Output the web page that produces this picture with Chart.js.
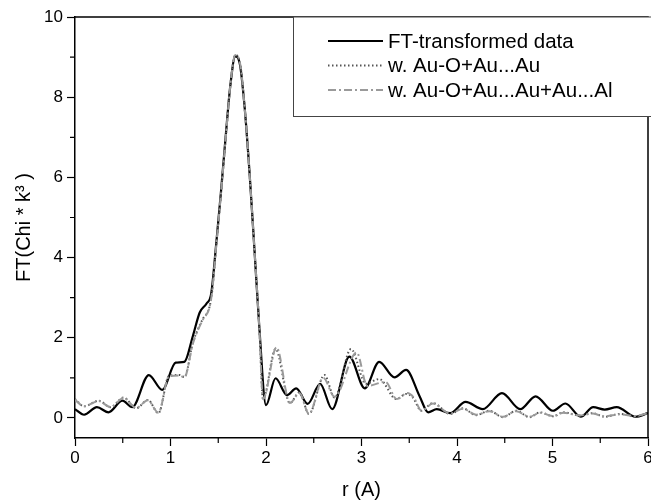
<!DOCTYPE html>
<html>
<head>
<meta charset="utf-8">
<script src="https://cdn.jsdelivr.net/npm/chart.js@4/dist/chart.umd.min.js"></script>
<style>
  body { margin: 0; background: #fff; }
  #wrap { width: 651px; height: 500px; }
</style>
</head>
<body>
<div id="wrap"><canvas id="ftChart" width="651" height="500"></canvas></div>
<script>
// Series labels
const seriesLabels = ['FT-transformed data', 'w. Au-O+Au...Au', 'w. Au-O+Au...Au+Au...Al'];

// FT-transformed data (r, FT)
const ftR = [0.00, 0.095, 0.23, 0.35, 0.497, 0.60, 0.773, 0.914, 1.054, 1.145, 1.235, 1.306, 1.376, 1.426,
  1.477, 1.527, 1.577, 1.627, 1.678, 1.728, 1.778, 1.828, 1.879, 1.929, 2.00, 2.10, 2.22, 2.316, 2.436,
  2.567, 2.693, 2.873, 3.034, 3.185, 3.346, 3.467, 3.607, 3.698, 3.788, 3.929, 4.09, 4.27, 4.471, 4.662,
  4.823, 5.004, 5.135, 5.296, 5.426, 5.547, 5.673, 5.868, 6.00];
const ftY = [0.22, 0.08, 0.27, 0.14, 0.43, 0.27, 1.07, 0.70, 1.38, 1.40, 2.05, 2.63, 2.85, 3.10,
  4.3, 5.6, 7.0, 8.3, 9.02, 8.8, 7.7, 6.1, 4.2, 2.3, 0.32, 0.99, 0.57, 0.74, 0.35,
  0.85, 0.22, 1.53, 0.74, 1.40, 1.01, 1.20, 0.55, 0.14, 0.22, 0.12, 0.40, 0.22, 0.62, 0.22,
  0.54, 0.18, 0.36, 0.03, 0.27, 0.21, 0.27, 0.03, 0.12];

// Fit w. Au-O + Au...Au
const auR = [0.00, 0.095, 0.25, 0.37, 0.51, 0.64, 0.763, 0.874, 0.984, 1.095, 1.145, 1.235, 1.336, 1.406,
  1.436, 1.477, 1.527, 1.577, 1.627, 1.678, 1.728, 1.778, 1.828, 1.879, 1.929, 1.969, 2.10, 2.25, 2.35,
  2.45, 2.612, 2.718, 2.89, 3.045, 3.185, 3.366, 3.467, 3.537, 3.627, 3.748, 3.929, 4.06, 4.20, 4.34,
  4.48, 4.62, 4.76, 4.87, 5.004, 5.115, 5.286, 5.416, 5.547, 5.708, 5.868, 6.00];
const auY = [0.47, 0.29, 0.43, 0.27, 0.51, 0.24, 0.45, 0.12, 1.05, 1.07, 1.02, 1.88, 2.46, 2.75,
  3.15, 4.25, 5.55, 6.95, 8.3, 9.05, 8.85, 7.7, 6.1, 4.2, 2.3, 0.47, 1.72, 0.37, 0.64,
  0.10, 1.07, 0.51, 1.72, 0.85, 0.97, 0.47, 0.60, 0.51, 0.18, 0.37, 0.10, 0.24, 0.07, 0.18,
  0.02, 0.18, 0.02, 0.14, 0.04, 0.14, 0.06, 0.12, 0.03, 0.10, 0.04, 0.12];

// Fit w. Au-O + Au...Au + Au...Al
const alR = [0.00, 0.095, 0.25, 0.37, 0.51, 0.64, 0.763, 0.874, 0.984, 1.095, 1.145, 1.235, 1.336, 1.406,
  1.436, 1.477, 1.527, 1.577, 1.627, 1.678, 1.728, 1.778, 1.828, 1.879, 1.929, 1.969, 2.11, 2.25, 2.35,
  2.45, 2.60, 2.718, 2.95, 3.06, 3.25, 3.37, 3.48, 3.55, 3.627, 3.748, 3.929, 4.06, 4.20, 4.34,
  4.48, 4.62, 4.76, 4.87, 5.004, 5.115, 5.286, 5.416, 5.547, 5.708, 5.868, 6.00];
const alY = [0.45, 0.29, 0.42, 0.27, 0.50, 0.25, 0.44, 0.13, 1.04, 1.06, 1.01, 1.86, 2.44, 2.74,
  3.15, 4.25, 5.55, 6.95, 8.3, 9.05, 8.85, 7.7, 6.1, 4.2, 2.3, 0.47, 1.76, 0.37, 0.62,
  0.10, 1.00, 0.53, 1.63, 0.80, 0.90, 0.47, 0.62, 0.50, 0.18, 0.36, 0.11, 0.23, 0.08, 0.17,
  0.03, 0.17, 0.03, 0.13, 0.05, 0.13, 0.06, 0.11, 0.04, 0.09, 0.05, 0.12];

// Axis ticks
const xMajorTicks = [0, 1, 2, 3, 4, 5, 6];
const xMinorTicks = [0.5, 1.5, 2.5, 3.5, 4.5, 5.5];
const yMajorTicks = [0, 2, 4, 6, 8, 10];
const yMinorTicks = [1, 3, 5, 7, 9];

const toPoints = (xs, ys) => xs.map((x, i) => ({ x: x, y: ys[i] }));

const seriesStyles = [
  { color: '#000000', width: 2.2, dash: [] },
  { color: '#555555', width: 2, dash: [1.5, 2.5] },
  { color: '#9a9a9a', width: 2, dash: [8, 3, 2, 3] }
];

// draws the frame, minor ticks and the boxed legend
const framePlugin = {
  id: 'frame',
  afterDraw(chart) {
    const ctx = chart.ctx;
    const a = chart.chartArea;
    const xs = chart.scales.x, ys = chart.scales.y;
    ctx.save();
    ctx.strokeStyle = '#000';
    ctx.lineWidth = 1.5;
    ctx.beginPath();
    ctx.moveTo(a.left, a.top);
    ctx.lineTo(a.right, a.top);
    ctx.lineTo(a.right, a.bottom);
    ctx.stroke();

    // minor ticks
    ctx.lineWidth = 1.2;
    ctx.beginPath();
    yMinorTicks.forEach(v => {
      const py = ys.getPixelForValue(v);
      ctx.moveTo(a.left - 5, py);
      ctx.lineTo(a.left, py);
    });
    xMinorTicks.forEach(v => {
      const px = xs.getPixelForValue(v);
      ctx.moveTo(px, a.bottom);
      ctx.lineTo(px, a.bottom + 5);
    });
    ctx.stroke();

    // legend
    const boxLeft = 293.5, boxTop = a.top, boxBottom = 116.5;
    ctx.fillStyle = '#fff';
    ctx.fillRect(boxLeft, boxTop, 651 - boxLeft + 5, boxBottom - boxTop);
    ctx.strokeStyle = '#444';
    ctx.lineWidth = 1;
    ctx.strokeRect(boxLeft, boxTop, 651 - boxLeft + 5, boxBottom - boxTop);
    ctx.font = '20.5px "Liberation Sans", Arial, sans-serif';
    ctx.textBaseline = 'middle';
    ctx.textAlign = 'left';
    seriesLabels.forEach((label, i) => {
      const y = 41 + i * 24.5;
      const st = seriesStyles[i];
      ctx.strokeStyle = st.color;
      ctx.lineWidth = st.width;
      ctx.setLineDash(st.dash);
      ctx.beginPath();
      ctx.moveTo(328, y);
      ctx.lineTo(383, y);
      ctx.stroke();
      ctx.setLineDash([]);
      ctx.fillStyle = '#000';
      ctx.fillText(label, 388, y + 1);
    });
    ctx.restore();
  }
};

const datasets = [toPoints(ftR, ftY), toPoints(auR, auY), toPoints(alR, alY)].map((data, i) => ({
  label: seriesLabels[i],
  data: data,
  borderColor: seriesStyles[i].color,
  borderWidth: seriesStyles[i].width,
  borderDash: seriesStyles[i].dash,
  pointRadius: 0,
  fill: false,
  cubicInterpolationMode: 'monotone',
  order: 2 - i
}));

const tickFont = { family: '"Liberation Sans", Arial, sans-serif', size: 17 };
const titleFont = { family: '"Liberation Sans", Arial, sans-serif', size: 20, lineHeight: 1 };

new Chart(document.getElementById('ftChart').getContext('2d'), {
  type: 'line',
  data: { datasets: datasets },
  options: {
    responsive: false,
    animation: false,
    layout: { padding: { top: 17, right: 3, left: 0, bottom: 0 } },
    plugins: {
      legend: { display: false },
      tooltip: { enabled: false },
      title: { display: false }
    },
    scales: {
      x: {
        type: 'linear',
        min: 0,
        max: 6,
        afterBuildTicks: s => { s.ticks = xMajorTicks.map(v => ({ value: v })); },
        afterFit: s => { s.height = 62; s.paddingLeft = 0; s.paddingRight = 0; },
        ticks: { color: '#000', font: tickFont, padding: 2, maxRotation: 0, autoSkip: false },
        grid: { drawOnChartArea: false, tickLength: 8, tickColor: '#000', tickWidth: 1.2 },
        border: { color: '#000', width: 1.5 },
        title: { display: true, text: 'r (A)', color: '#000', font: titleFont, padding: { top: 0, bottom: 0 } }
      },
      y: {
        type: 'linear',
        min: -0.5,
        max: 10,
        afterBuildTicks: s => { s.ticks = yMajorTicks.map(v => ({ value: v })); },
        afterFit: s => { s.width = 75; s.paddingTop = 0; s.paddingBottom = 0; },
        ticks: { color: '#000', font: tickFont, padding: 4 },
        grid: { drawOnChartArea: false, tickLength: 8, tickColor: '#000', tickWidth: 1.2 },
        border: { color: '#000', width: 1.5 },
        title: { display: true, text: 'FT(Chi * k\u00B3 )', color: '#000', font: titleFont, padding: { top: 14, bottom: 0 } }
      }
    }
  },
  plugins: [framePlugin]
});
</script>
</body>
</html>
